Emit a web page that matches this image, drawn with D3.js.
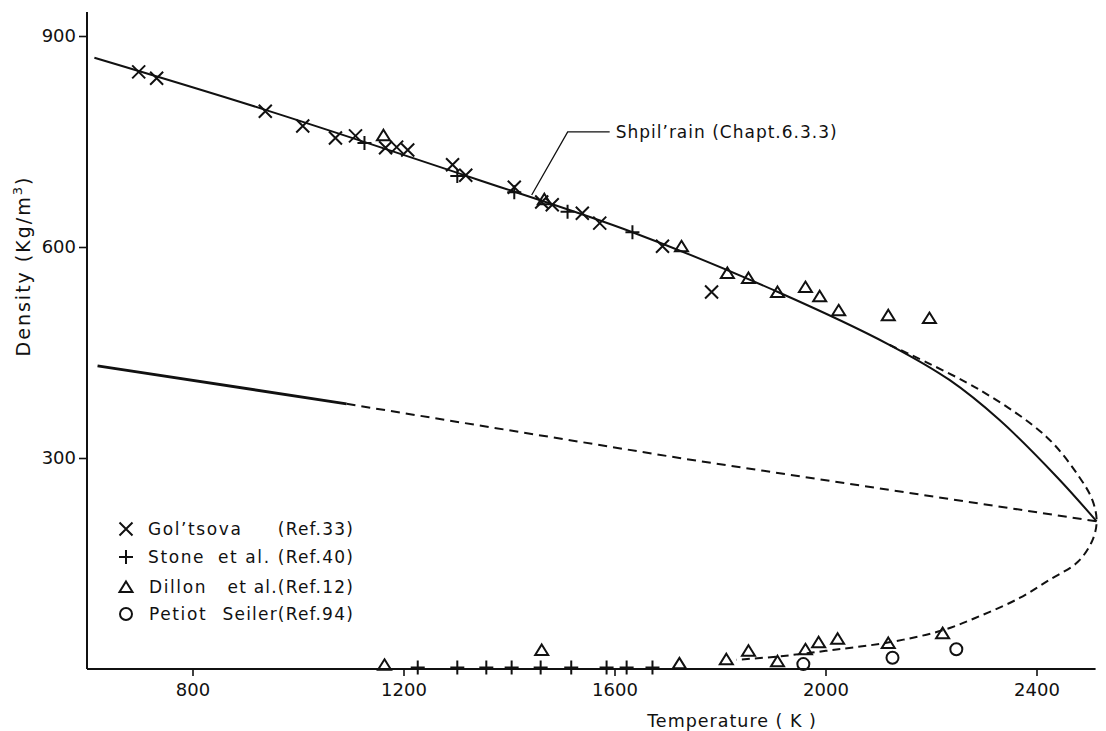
<!DOCTYPE html>
<html>
<head>
<meta charset="utf-8">
<script src="https://cdn.jsdelivr.net/npm/d3@7"></script>
<style>
  body { margin: 0; background: #fff; }
  svg { display: block; }
  text { font-family: "DejaVu Sans", sans-serif; fill: #111; }
</style>
</head>
<body>
<div id="chart"></div>
<script>
// data: [temperature K, density kg/m3]
var goltsova = [[698,849],[732,840],[938,793],[1009,772],[1071,755],[1109,758],[1166,741],[1187,742],
  [1208,738],[1293,717],[1318,702],[1410,685],[1462,664],[1482,660],[1539,648],[1572,634],[1691,601],[1784,536]];
var stone = [[1126,748],[1302,701],[1410,678],[1511,650],[1634,621],
  [1227,2],[1302,2],[1357,2],[1405,2],[1460,2],[1518,2],[1585,2],[1623,2],[1672,2]];
var dillon = [[1162,759],[1467,668],[1727,601],[1814,563],[1854,556],[1909,536],[1962,543],[1989,530],
  [2025,510],[2119,503],[2197,499],
  [1164,6],[1462,27],[1723,8],[1812,14],[1854,26],[1909,11],[1962,28],[1987,38],[2023,43],[2119,37],[2222,51]];
var petiot = [[1958,7],[2127,16],[2248,28]];

// Shpil'rain liquid curve (solid)
var liquidCurve = [[614,869],[938,795],[1344,695],[1634,621],[1913,535],[2121,461],[2235,411],[2330,354],
  [2440,272],[2514,210]];
// coexistence curve through the critical point (dashed)
var coexCurve = [[2121,461],[2292,397],[2419,330],[2482,272],[2506,240],[2514,210],[2506,183],[2478,152],
  [2425,127],[2368,101],[2298,77],[2222,55],[2121,38],[2013,27],[1913,18],[1831,13]];
// rectilinear diameter
var diameterSolid = [[620,431],[1092,377]];
var diameterDashed = [[1092,377],[1723,300],[2514,210]];

var xTicks = [800,1200,1600,2000,2400];
var yTicks = [300,600,900];

// legend text pieces: [text, x] (last piece right aligned)
var legendItems = [
  {sym: "cross", parts: [["Gol\u2019tsova", 148], ["(Ref.33)", 354]]},
  {sym: "plus", parts: [["Stone", 148], ["et al.", 218], ["(Ref.40)", 354]]},
  {sym: "tri", parts: [["Dillon", 149], ["et al.(Ref.12)", 354]]},
  {sym: "circ", parts: [["Petiot", 149], ["Seiler(Ref.94)", 354]]}
];
var legendRows = [529, 557, 587, 614];

var width = 1106, height = 731;
var svg = d3.select("#chart").append("svg").attr("width", width).attr("height", height);

var x = d3.scaleLinear().domain([600, 2400]).range([87, 1036.5]);
var y = d3.scaleLinear().domain([0, 900]).range([669, 36]);

var symPath = {
  cross: "M-6.5,-6.5L6.5,6.5M-6.5,6.5L6.5,-6.5",
  plus: "M-7,0H7M0,-7V7",
  tri: "M0,-5.5L6.5,5H-6.5Z",
  circ: "M6,0A6,6 0 1,1 -6,0A6,6 0 1,1 6,0Z"
};

// axes
svg.append("line").attr("x1", x(600)).attr("x2", x(600)).attr("y1", y(0)).attr("y2", y(934))
  .attr("stroke", "#111").attr("stroke-width", 2);
svg.append("line").attr("x1", x(600)).attr("x2", x(2512)).attr("y1", y(0)).attr("y2", y(0))
  .attr("stroke", "#111").attr("stroke-width", 2);

var xAxis = svg.append("g").attr("transform", "translate(0," + y(0) + ")")
  .call(d3.axisBottom(x).tickValues(xTicks).tickSize(7).tickPadding(7).tickFormat(d3.format("d")));
var yAxis = svg.append("g").attr("transform", "translate(" + x(600) + ",0)")
  .call(d3.axisLeft(y).tickValues(yTicks).tickSize(8).tickPadding(3).tickFormat(d3.format("d")));
[xAxis, yAxis].forEach(function(a) {
  a.select(".domain").remove();
  a.selectAll(".tick line").attr("stroke", "#111").attr("stroke-width", 1.6);
  a.selectAll(".tick text").attr("font-size", 18).attr("fill", "#111")
    .attr("font-family", "DejaVu Sans, sans-serif");
});

svg.append("text").attr("x", 732).attr("y", 727).attr("text-anchor", "middle")
  .attr("font-size", 17.5).attr("letter-spacing", 1).text("Temperature ( K )");
var yl = svg.append("text").attr("transform", "translate(30,266) rotate(-90)").attr("text-anchor", "middle")
  .attr("font-size", 19).attr("letter-spacing", 2);
yl.append("tspan").text("Density  (Kg/m");
yl.append("tspan").attr("dy", -8).attr("font-size", 13).text("3");
yl.append("tspan").attr("dy", 8).text(")");

// curves
var line = d3.line().x(function(d) { return x(d[0]); }).y(function(d) { return y(d[1]); })
  .curve(d3.curveCatmullRom.alpha(0.5));
var straight = d3.line().x(function(d) { return x(d[0]); }).y(function(d) { return y(d[1]); });

svg.append("path").attr("d", line(liquidCurve)).attr("fill", "none").attr("stroke", "#111").attr("stroke-width", 2);
svg.append("path").attr("d", line(coexCurve)).attr("fill", "none").attr("stroke", "#111")
  .attr("stroke-width", 2).attr("stroke-dasharray", "8,5");
svg.append("path").attr("d", straight(diameterSolid)).attr("fill", "none").attr("stroke", "#111").attr("stroke-width", 2.8);
svg.append("path").attr("d", straight(diameterDashed)).attr("fill", "none").attr("stroke", "#111")
  .attr("stroke-width", 2).attr("stroke-dasharray", "9,6");

// data points
function drawPoints(data, sym) {
  svg.append("g").selectAll("path").data(data).enter().append("path")
    .attr("transform", function(d) { return "translate(" + x(d[0]) + "," + y(d[1]) + ")"; })
    .attr("d", symPath[sym]).attr("fill", "none").attr("stroke", "#111").attr("stroke-width", 2);
}
drawPoints(goltsova, "cross");
drawPoints(stone, "plus");
drawPoints(dillon, "tri");
drawPoints(petiot, "circ");

// annotation
var ax = x(1443), ay = y(674);
svg.append("path").attr("d", "M" + ax + "," + ay + "L" + (ax + 36) + "," + (ay - 63) + "H" + (ax + 78))
  .attr("fill", "none").attr("stroke", "#111").attr("stroke-width", 1.3);
svg.append("text").attr("x", ax + 84).attr("y", ay - 57).attr("font-size", 17).attr("letter-spacing", 1)
  .text("Shpil\u2019rain (Chapt.6.3.3)");

// legend
var lg = svg.append("g").selectAll("g").data(legendItems).enter().append("g")
  .attr("transform", function(d, i) { return "translate(0," + legendRows[i] + ")"; });
lg.append("path").attr("transform", "translate(126,0)").attr("d", function(d) { return symPath[d.sym]; })
  .attr("fill", "none").attr("stroke", "#111").attr("stroke-width", 2);
lg.each(function(d) {
  var g = d3.select(this);
  d.parts.forEach(function(p, j) {
    var last = j === d.parts.length - 1 && j > 0;
    g.append("text").attr("x", p[1]).attr("y", 6).attr("font-size", 17)
      .attr("letter-spacing", last ? 1.2 : 1.6)
      .attr("text-anchor", last ? "end" : "start").text(p[0]);
  });
});
</script>
</body>
</html>
